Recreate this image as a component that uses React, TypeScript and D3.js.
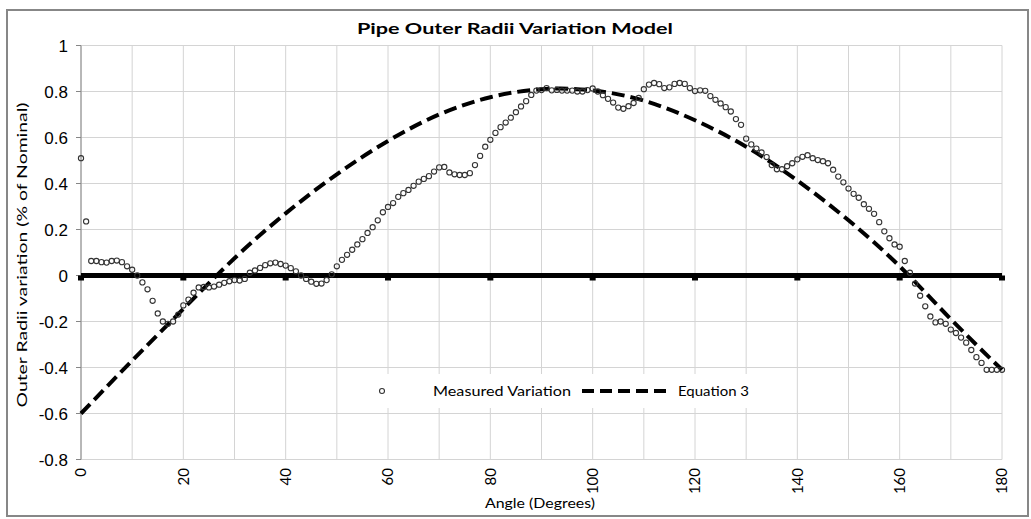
import React from 'react';
import * as d3 from 'd3';

// Measured variation, one sample per degree from 0 to 180
const measuredValues: number[] = [
  0.51, 0.235, 0.063, 0.063, 0.058, 0.056, 0.063, 0.065, 0.058, 0.04,
  0.025, 0.0, -0.03, -0.06, -0.11, -0.165, -0.2, -0.21, -0.2, -0.17,
  -0.13, -0.105, -0.075, -0.052, -0.05, -0.052, -0.048, -0.04, -0.032, -0.025,
  -0.02, -0.022, -0.015, 0.012, 0.022, 0.033, 0.045, 0.053, 0.056, 0.05,
  0.043, 0.032, 0.018, 0.0, -0.015, -0.027, -0.036, -0.035, -0.02, 0.005,
  0.04, 0.068, 0.09, 0.112, 0.135, 0.158, 0.185, 0.21, 0.24, 0.275,
  0.298, 0.315, 0.342, 0.358, 0.372, 0.39, 0.408, 0.42, 0.432, 0.452,
  0.47, 0.472, 0.448, 0.44, 0.437, 0.437, 0.445, 0.48, 0.52, 0.56,
  0.59, 0.62, 0.645, 0.665, 0.686, 0.71, 0.735, 0.758, 0.785, 0.804,
  0.806, 0.815, 0.805, 0.807, 0.804, 0.804, 0.804, 0.8, 0.8, 0.806,
  0.813, 0.8, 0.784, 0.768, 0.752, 0.73, 0.725, 0.736, 0.75, 0.772,
  0.81, 0.83, 0.837, 0.832, 0.815, 0.818, 0.833, 0.837, 0.833, 0.815,
  0.802, 0.805, 0.803, 0.78, 0.764, 0.748, 0.732, 0.713, 0.68, 0.655,
  0.595, 0.57, 0.552, 0.535, 0.515, 0.48, 0.462, 0.462, 0.475, 0.488,
  0.505, 0.516, 0.523, 0.51, 0.502, 0.497, 0.488, 0.46, 0.43, 0.405,
  0.378, 0.355, 0.338, 0.31, 0.29, 0.268, 0.232, 0.192, 0.162, 0.135,
  0.125, 0.063, 0.012, -0.035, -0.088, -0.134, -0.178, -0.204, -0.2, -0.21,
  -0.235, -0.25, -0.27, -0.292, -0.324, -0.355, -0.38, -0.41, -0.41, -0.41,
  -0.41,
];
const measuredAngles: number[] = d3.range(0, measuredValues.length);

// Equation 3 model curve, read every 10 degrees
const equationAngles: number[] = [0, 10, 20, 30, 40, 50, 60, 70, 80, 90, 100, 110, 120, 130, 140, 150, 160, 170, 180];
const equationValues: number[] = [-0.6, -0.37, -0.145, 0.075, 0.27, 0.44, 0.585, 0.7, 0.775, 0.81, 0.805, 0.76, 0.675, 0.56, 0.413, 0.24, 0.04, -0.19, -0.41];

const xTicks: number[] = [0, 20, 40, 60, 80, 100, 120, 140, 160, 180];
const xGrid: number[] = [0, 10, 20, 30, 40, 50, 60, 70, 80, 90, 100, 110, 120, 130, 140, 150, 160, 170, 180];
const yTicks: number[] = [-0.8, -0.6, -0.4, -0.2, 0, 0.2, 0.4, 0.6, 0.8, 1];
const yTickLabels: string[] = ['-0.8', '-0.6', '-0.4', '-0.2', '0', '0.2', '0.4', '0.6', '0.8', '1'];

const title = 'Pipe Outer Radii Variation Model';
const xTitle = 'Angle  (Degrees)';
const yTitle = 'Outer Radii variation (% of Nominal)';
const seriesNames = ['Measured Variation', 'Equation 3'];

export default function App() {
  const W = 1031, H = 519;
  const x = d3.scaleLinear().domain([0, 180]).range([81, 1002]);
  const y = d3.scaleLinear().domain([-0.8, 1]).range([459.5, 45.5]);
  const eqLine = d3.line<number>()
    .x((_, i) => x(equationAngles[i]))
    .y((d) => y(d))
    .curve(d3.curveNatural);
  const y0 = y(0);
  const calibri = 'Lato, "Open Sans", sans-serif';

  return (
    <svg width={W} height={H} style={{ position: 'absolute', left: 0, top: 0 }}>
      <rect x={0} y={0} width={W} height={H} fill="#fff" />
      <rect x={7} y={10} width={1021} height={506} fill="#fff" stroke="#878787" strokeWidth={2} />
      <text x={515} y={34} textAnchor="middle" fontFamily={calibri} fontWeight="bold" fontSize={16} textLength={316} lengthAdjust="spacingAndGlyphs">{title}</text>

      {/* grid */}
      {xGrid.map((g) => (
        <line key={'gx' + g} x1={x(g)} x2={x(g)} y1={y(1)} y2={y(-0.8)} stroke="#d4d4d4" strokeWidth={1} />
      ))}
      {yTicks.map((t) => (
        <line key={'gy' + t} x1={x(0)} x2={x(180)} y1={y(t)} y2={y(t)} stroke="#d4d4d4" strokeWidth={1} />
      ))}

      {/* y axis */}
      <line x1={x(0)} x2={x(0)} y1={y(1)} y2={y(-0.8)} stroke="#868686" strokeWidth={1} />
      {yTicks.map((t, i) => (
        <g key={'yt' + t}>
          <line x1={x(0) - 5} x2={x(0)} y1={y(t)} y2={y(t)} stroke="#868686" strokeWidth={1} />
          <text x={68} y={y(t)} dy="0.36em" textAnchor="end" fontFamily='"Liberation Sans", Arial, sans-serif' fontSize={17} fill="#000">{yTickLabels[i]}</text>
        </g>
      ))}

      {/* legend box */}
      <rect x={370} y={374} width={387} height={34} fill="#fff" />
      <circle cx={382} cy={391} r={2.5} fill="none" stroke="#333" strokeWidth={1.1} />
      <text x={433} y={391} dy="0.35em" fontFamily={calibri} fontSize={13} textLength={138} lengthAdjust="spacingAndGlyphs">{seriesNames[0]}</text>
      <line x1={582} x2={667} y1={391} y2={391} stroke="#000" strokeWidth={4} strokeDasharray="12,6" />
      <text x={678} y={391} dy="0.35em" fontFamily={calibri} fontSize={13} textLength={71} lengthAdjust="spacingAndGlyphs">{seriesNames[1]}</text>

      {/* zero axis (thick) with tick squares */}
      <line x1={x(0)} x2={x(180)} y1={y0} y2={y0} stroke="#000" strokeWidth={5} />
      {xTicks.map((t) => (
        <rect key={'xt' + t} x={x(t) - 3} y={y0} width={6} height={5} fill="#000" />
      ))}

      {/* equation 3 */}
      <path d={eqLine(equationValues) || ''} fill="none" stroke="#000" strokeWidth={4} strokeDasharray="13,6" />

      {/* measured */}
      {measuredValues.map((v, i) => (
        <circle key={'m' + i} cx={x(measuredAngles[i])} cy={y(v)} r={2.6} fill="none" stroke="#333" strokeWidth={1.1} />
      ))}

      {/* x tick labels */}
      {xTicks.map((t) => (
        <text key={'xl' + t} transform={`translate(${x(t)},468) rotate(-90)`} textAnchor="end" dy="0.35em" fontFamily={calibri} fontSize={15}>{t}</text>
      ))}

      <text x={540} y={508} textAnchor="middle" fontFamily={calibri} fontSize={13} textLength={110} lengthAdjust="spacingAndGlyphs">{xTitle}</text>
      <text transform="translate(22,255) rotate(-90)" textAnchor="middle" dy="0.35em" fontFamily={calibri} fontSize={13} textLength={305} lengthAdjust="spacingAndGlyphs">{yTitle}</text>
    </svg>
  );
}
